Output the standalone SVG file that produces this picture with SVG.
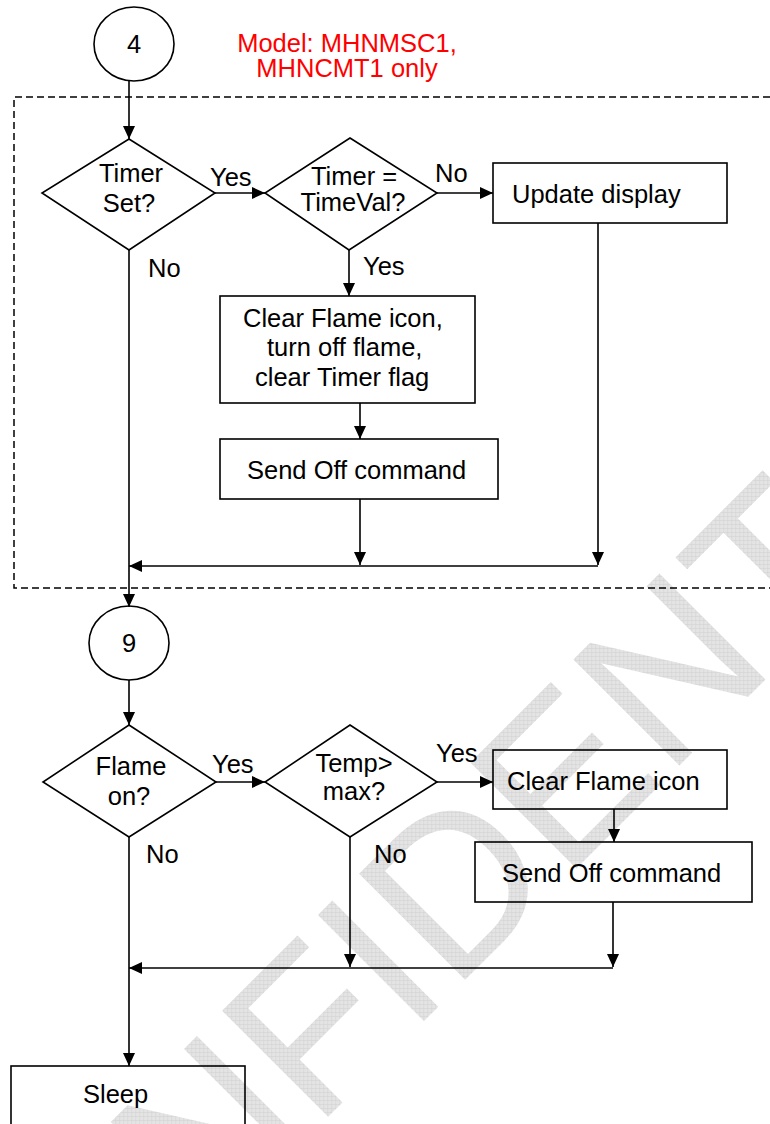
<svg xmlns="http://www.w3.org/2000/svg" width="770" height="1124" viewBox="0 0 770 1124">
<style>
  .shape { fill: none; stroke: #000; stroke-width: 1.6; }
  .conn { fill: none; stroke: #000; stroke-width: 1.6; }
  .t { font-family: "Liberation Sans", Arial, sans-serif; font-size: 25.5px; fill: #000; }
  .m { text-anchor: middle; }
  .red { fill: #ff0000; }
  .wm { font-family: "Liberation Sans", Arial, sans-serif; font-size: 218px; }
</style>
<defs>
  <marker id="arrow" markerUnits="userSpaceOnUse" markerWidth="14" markerHeight="12" refX="13" refY="6" orient="auto">
    <path d="M0,0 L13,6 L0,12 z" fill="#000"/>
  </marker>
  <pattern id="grid" patternUnits="userSpaceOnUse" width="4" height="4" patternTransform="rotate(45)">
    <rect width="4" height="4" fill="#e4e4e4"/>
    <path d="M0,0 H4 M0,0 V4" stroke="#c9c9c9" stroke-width="0.7"/>
  </pattern>
</defs>
<rect width="770" height="1124" fill="#fff"/>

<g id="watermark">
  <text class="wm" x="-27" y="1472" transform="rotate(-45 -27 1472)" fill="url(#grid)">CONFIDENTIAL</text>
</g>

<g id="model-note">
  <text class="t m red" x="347" y="52">Model: MHNMSC1,</text>
  <text class="t m red" x="347" y="77">MHNCMT1 only</text>
</g>

<g id="region">
  <path d="M770,97 H14 V588 H770" fill="none" stroke="#000" stroke-width="1.5" stroke-dasharray="7 4"/>
</g>

<g id="connectors">
  <line class="conn" x1="129" y1="81" x2="129" y2="139" marker-end="url(#arrow)"/>
  <line class="conn" x1="215" y1="193" x2="265" y2="193" marker-end="url(#arrow)"/>
  <line class="conn" x1="437" y1="193" x2="493" y2="193" marker-end="url(#arrow)"/>
  <line class="conn" x1="349" y1="250" x2="349" y2="296" marker-end="url(#arrow)"/>
  <line class="conn" x1="360" y1="403" x2="360" y2="439" marker-end="url(#arrow)"/>
  <line class="conn" x1="360" y1="499" x2="360" y2="565" marker-end="url(#arrow)"/>
  <line class="conn" x1="598" y1="223" x2="598" y2="565" marker-end="url(#arrow)"/>
  <line class="conn" x1="598" y1="566" x2="129" y2="566" marker-end="url(#arrow)"/>
  <line class="conn" x1="129" y1="250" x2="129" y2="607" marker-end="url(#arrow)"/>
  <line class="conn" x1="129" y1="680" x2="129" y2="725" marker-end="url(#arrow)"/>
  <line class="conn" x1="216" y1="782" x2="265" y2="782" marker-end="url(#arrow)"/>
  <line class="conn" x1="437" y1="782" x2="493" y2="782" marker-end="url(#arrow)"/>
  <line class="conn" x1="614" y1="809" x2="614" y2="842" marker-end="url(#arrow)"/>
  <line class="conn" x1="613" y1="902" x2="613" y2="967" marker-end="url(#arrow)"/>
  <line class="conn" x1="350" y1="837" x2="350" y2="967" marker-end="url(#arrow)"/>
  <line class="conn" x1="613" y1="968" x2="129" y2="968" marker-end="url(#arrow)"/>
  <line class="conn" x1="129" y1="837" x2="129" y2="1066" marker-end="url(#arrow)"/>
  <text class="t" x="210" y="186">Yes</text>
  <text class="t" x="435" y="182">No</text>
  <text class="t" x="148" y="277">No</text>
  <text class="t" x="363" y="275">Yes</text>
  <text class="t" x="212" y="773">Yes</text>
  <text class="t" x="436" y="762">Yes</text>
  <text class="t" x="146" y="863">No</text>
  <text class="t" x="374" y="863">No</text>
</g>

<g id="c4">
  <ellipse class="shape" cx="134" cy="44" rx="40" ry="37"/>
  <text class="t m" x="134" y="53">4</text>
</g>

<g id="timer-set">
  <polygon class="shape" points="129,139 215,193 129,250 42,193"/>
  <text class="t m" x="131" y="182">Timer</text>
  <text class="t m" x="129" y="212">Set?</text>
</g>

<g id="timer-eq">
  <polygon class="shape" points="350,138 437,193 349,250 265,193"/>
  <text class="t m" x="354" y="185">Timer =</text>
  <text class="t m" x="353" y="211">TimeVal?</text>
</g>

<g id="update-display">
  <rect class="shape" x="493" y="163" width="234" height="60"/>
  <text class="t" x="512" y="203">Update display</text>
</g>

<g id="clear-timer">
  <rect class="shape" x="220" y="296" width="255" height="107"/>
  <text class="t" x="243" y="327">Clear Flame icon,</text>
  <text class="t" x="267" y="356">turn off flame,</text>
  <text class="t" x="255" y="386">clear Timer flag</text>
</g>

<g id="send-off-1">
  <rect class="shape" x="220" y="439" width="278" height="60"/>
  <text class="t" x="247" y="479">Send Off command</text>
</g>

<g id="c9">
  <ellipse class="shape" cx="129" cy="643" rx="40" ry="37"/>
  <text class="t m" x="129" y="652">9</text>
</g>

<g id="flame-on">
  <polygon class="shape" points="129,725 216,782 129,837 43,782"/>
  <text class="t m" x="131" y="775">Flame</text>
  <text class="t m" x="129" y="805">on?</text>
</g>

<g id="temp-max">
  <polygon class="shape" points="350,725 437,782 350,837 265,782"/>
  <text class="t m" x="354" y="772">Temp&gt;</text>
  <text class="t m" x="354" y="800">max?</text>
</g>

<g id="clear-flame">
  <rect class="shape" x="493" y="750" width="234" height="59"/>
  <text class="t" x="507" y="790">Clear Flame icon</text>
</g>

<g id="send-off-2">
  <rect class="shape" x="475" y="842" width="277" height="60"/>
  <text class="t" x="502" y="882">Send Off command</text>
</g>

<g id="sleep">
  <rect class="shape" x="11" y="1066" width="234" height="70"/>
  <text class="t" x="83" y="1103">Sleep</text>
</g>
</svg>
